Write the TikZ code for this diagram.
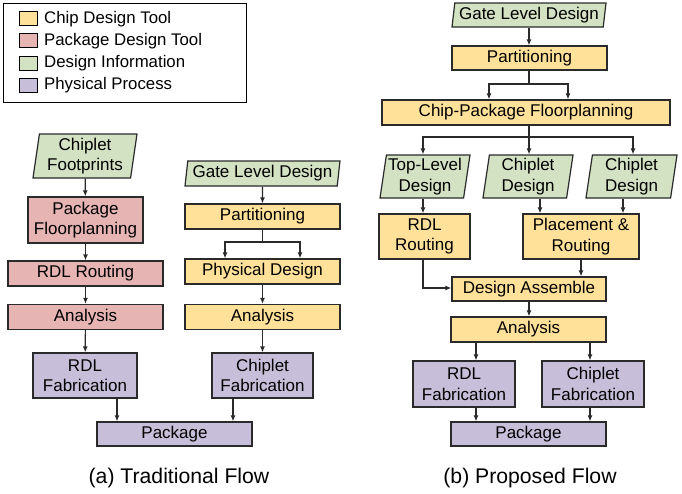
\documentclass[tikz,border=0pt]{standalone}
\usepackage{fontspec}
\setmainfont{Liberation Sans}
\usetikzlibrary{shapes.geometric,arrows.meta}
\definecolor{chipc}{HTML}{FFE199}
\definecolor{pkgc}{HTML}{E5B4B3}
\definecolor{infoc}{HTML}{D3E2C3}
\definecolor{physc}{HTML}{C7BFD9}
\definecolor{edgec}{HTML}{2A2A2A}
\tikzset{
  base/.style={draw=edgec, line width=1.2pt, align=center, inner sep=0pt,
    font=\fontsize{17}{20.5}\selectfont},
  boxr/.style={base, rectangle, minimum width=#1},
  chipbox/.style={boxr=#1, fill=chipc},
  pkgbox/.style={boxr=#1, fill=pkgc},
  physbox/.style={boxr=#1, fill=physc},
  infobox/.style={base, trapezium, trapezium left angle=80, trapezium right angle=100,
    trapezium stretches body, minimum width=#1, fill=infoc},
  arr/.style={draw=edgec, line width=1.2pt, -{Latex[length=6pt,width=5pt]}},
  ln/.style={draw=edgec, line width=1.2pt},
  swatch/.style={draw=black, line width=0.9pt, minimum width=18pt, minimum height=14pt, inner sep=0pt},
  legtxt/.style={anchor=west, inner sep=0pt, font=\fontsize{16.8}{20}\selectfont},
  captxt/.style={font=\fontsize{21.2}{25}\selectfont, inner sep=0pt}
}
\begin{document}
\begin{tikzpicture}[x=1pt,y=-1pt]
\useasboundingbox (0,0) rectangle (682,493);
% legend
\node[draw=black, line width=0.9pt, minimum width=243pt, minimum height=99pt, inner sep=0pt] (legend) at (124.5,52.5) {};
\node[swatch, fill=chipc] (s1) at (28,18.5) {};
\node[swatch, fill=pkgc] (s2) at (28,40.5) {};
\node[swatch, fill=infoc] (s3) at (28,63) {};
\node[swatch, fill=physc] (s4) at (28,85) {};
\node[legtxt] (t1) at (44,19) {Chip Design Tool};
\node[legtxt] (t2) at (44,41) {Package Design Tool};
\node[legtxt] (t3) at (44,63.5) {Design Information};
\node[legtxt] (t4) at (44,85.5) {Physical Process};

% ---------- traditional flow ----------
\node[infobox=104pt, minimum height=44pt] (cfp) at (85,156) {Chiplet\\Footprints};
\node[pkgbox=115pt, minimum height=46pt] (pfp) at (85.5,220) {Package\\Floorplanning};
\node[pkgbox=155pt, minimum height=25pt] (rdlr) at (85.5,273.5) {RDL Routing};
\node[pkgbox=155pt, minimum height=25pt] (anl) at (85.5,317) {Analysis};
\node[physbox=104pt, minimum height=45pt] (rdlf) at (85,375.5) {RDL\\Fabrication};
\node[physbox=155pt, minimum height=24pt] (pkgL) at (174.5,434) {Package};

\node[infobox=155pt, minimum height=25pt] (glL) at (262.5,173.5) {Gate Level Design};
\node[chipbox=155pt, minimum height=25pt] (partL) at (262.5,216.5) {Partitioning};
\node[chipbox=155pt, minimum height=25pt] (pdL) at (262.5,271.5) {Physical Design};
\node[chipbox=155pt, minimum height=25pt] (anR) at (262.5,317) {Analysis};
\node[physbox=101pt, minimum height=45pt] (cfL) at (262.5,375.5) {Chiplet\\Fabrication};

\node[captxt] (capA) at (179,478) {(a) Traditional Flow};

\draw[arr] (cfp) -- (pfp);
\draw[arr] (pfp) -- (rdlr);
\draw[arr] (rdlr) -- (anl);
\draw[arr] (anl) -- (rdlf);
\draw[arr] (rdlf.south -| 117,0) -- (pkgL.north -| 117,0);
\draw[arr] (glL) -- (partL);
\draw[ln] (partL.south) -- (262.5,242) coordinate (sL);
\draw[arr] (sL) -| (pdL.north -| 225,0);
\draw[arr] (sL) -| (pdL.north -| 300,0);
\draw[arr] (pdL) -- (anR);
\draw[arr] (anR) -- (cfL);
\draw[arr] (cfL.south -| 233,0) -- (pkgL.north -| 233,0);

% ---------- proposed flow ----------
\node[infobox=154pt, minimum height=24pt] (glR) at (529,15) {Gate Level Design};
\node[chipbox=155pt, minimum height=24pt] (partR) at (529.5,58) {Partitioning};
\node[chipbox=288pt, minimum height=25pt] (cpf) at (526,112.5) {Chip-Package Floorplanning};
\node[infobox=90pt, minimum height=43pt] (tld) at (425,176.5) {Top-Level\\Design};
\node[infobox=90pt, minimum height=43pt] (cd1) at (528,176.5) {Chiplet\\Design};
\node[infobox=91pt, minimum height=43pt] (cd2) at (631.5,176.5) {Chiplet\\Design};
\node[chipbox=91pt, minimum height=45pt] (rdlR) at (424.5,236.5) {RDL\\Routing};
\node[chipbox=116pt, minimum height=45pt] (pr) at (581,236.5) {Placement \&\\Routing};
\node[chipbox=154pt, minimum height=24pt] (da) at (529,289) {Design Assemble};
\node[chipbox=155pt, minimum height=25pt] (anB) at (528.5,329.5) {Analysis};
\node[physbox=102pt, minimum height=46pt] (rdlfB) at (464,384) {RDL\\Fabrication};
\node[physbox=102pt, minimum height=46pt] (cfB) at (593,384) {Chiplet\\Fabrication};
\node[physbox=155pt, minimum height=24pt] (pkgR) at (528.5,434) {Package};

\node[captxt] (capB) at (530,478) {(b) Proposed Flow};

\draw[arr] (glR.south -| 529,0) -- (partR.north -| 529,0);
\draw[ln] (partR.south -| 529,0) -- (529,84) coordinate (sR1);
\draw[arr] (sR1) -| (cpf.north -| 489,0);
\draw[arr] (sR1) -| (cpf.north -| 568,0);
\draw[ln] (cpf.south -| 529,0) -- (529,137) coordinate (sR2);
\draw[arr] (sR2) -| (tld.north -| 423,0);
\draw[arr] (sR2) -- (cd1.north -| 529,0);
\draw[arr] (sR2) -| (cd2.north -| 633,0);
\draw[arr] (tld.south -| 423,0) -- (rdlR.north -| 423,0);
\draw[arr] (cd1.south -| 540,0) -- (pr.north -| 540,0);
\draw[arr] (cd2.south -| 623,0) -- (pr.north -| 623,0);
\draw[arr] (rdlR.south -| 423,0) |- (da.west |- 0,288);
\draw[arr] (pr.south) -- (da.north -| pr.south);
\draw[arr] (da.south -| 529,0) -- (anB.north -| 529,0);
\draw[arr] (anB.south -| 476,0) -- (rdlfB.north -| 476,0);
\draw[arr] (anB.south -| 590,0) -- (cfB.north -| 590,0);
\draw[arr] (rdlfB.south -| 476,0) -- (pkgR.north -| 476,0);
\draw[arr] (cfB.south -| 590,0) -- (pkgR.north -| 590,0);
\end{tikzpicture}
\end{document}
